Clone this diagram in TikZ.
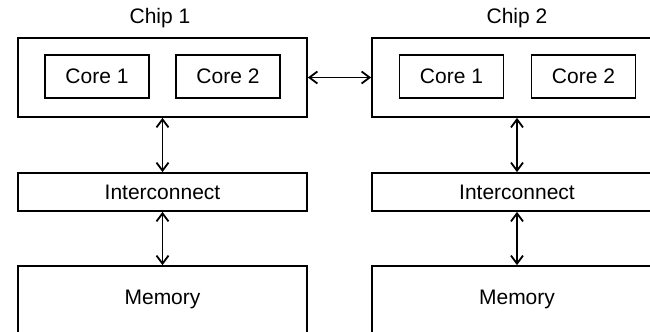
\documentclass[tikz,border=0pt]{standalone}
\usepackage{fontspec}
\setmainfont{Liberation Sans}
\usepackage{tikz}
\usetikzlibrary{arrows.meta}

\begin{document}
\begin{tikzpicture}[x=0.5pt,y=-0.5pt,
    box/.style={draw,line width=0.9pt,inner sep=0pt,font=\fontsize{10.5}{12}\selectfont},
    link/.style={{Straight Barb[length=4pt,width=6pt]}-{Straight Barb[length=4pt,width=6pt]},line width=0.9pt}]
    \useasboundingbox (0,0) rectangle (650,332);
    \clip (0,0) rectangle (650,332);
    % Chip 1 med to kerner
    \node[font=\fontsize{10.5}{12}\selectfont] (lblA) at (160,18) {Chip 1};
    \node[box,minimum width=144.5pt,minimum height=39.5pt] (chipA) at (162.5,77.5) {};
    \node[box,minimum width=52pt,minimum height=21.5pt] (coreA1) at (97,76.5) {Core 1};
    \node[box,minimum width=52pt,minimum height=21.5pt] (coreA2) at (228,76.5) {Core 2};
    % Chip 2 med to kerner
    \node[font=\fontsize{10.5}{12}\selectfont] (lblB) at (517,18) {Chip 2};
    \node[box,minimum width=145pt,minimum height=39.5pt] (chipB) at (517,77.5) {};
    \node[box,minimum width=52pt,minimum height=21.5pt] (coreB1) at (451.5,76.5) {Core 1};
    \node[box,minimum width=52pt,minimum height=21.5pt] (coreB2) at (583.5,76.5) {Core 2};
    % Interconnect og hukommelse
    \node[box,minimum width=144.5pt,minimum height=19pt] (icA) at (162.5,192) {Interconnect};
    \node[box,minimum width=145pt,minimum height=19pt] (icB) at (517,192) {Interconnect};
    \node[box,minimum width=144.5pt,minimum height=50pt] (memA) at (162.5,316) {};
    \node[box,minimum width=145pt,minimum height=50pt] (memB) at (517,316) {};
    \node[font=\fontsize{10.5}{12}\selectfont] at (162.5,299) {Memory};
    \node[font=\fontsize{10.5}{12}\selectfont] at (517,299) {Memory};
    % Forbindelser
    \draw[link] (chipA.east) -- (chipB.west);
    \draw[link] (chipA.south) -- (icA.north);
    \draw[link] (chipB.south) -- (icB.north);
    \draw[link] (icA.south) -- (memA.north);
    \draw[link] (icB.south) -- (memB.north);
\end{tikzpicture}
\end{document}
